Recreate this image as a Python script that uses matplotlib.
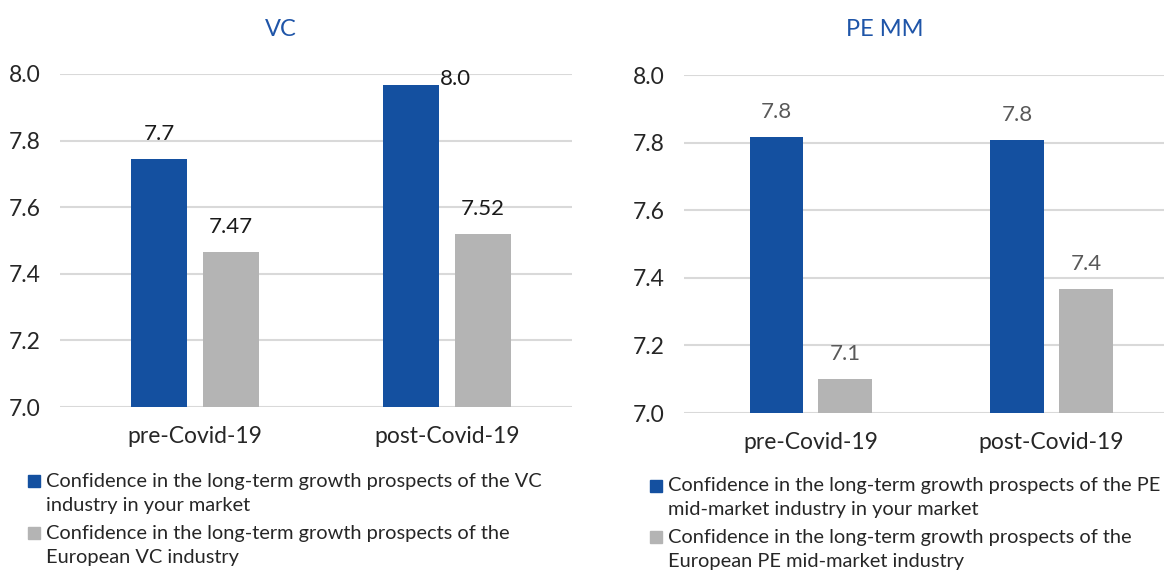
import matplotlib
matplotlib.use("Agg")
from matplotlib import pyplot as plt
from matplotlib.patches import Rectangle

plt.rcParams['font.family'] = ['Lato', 'DejaVu Sans']

periods = ["pre-Covid-19", "post-Covid-19"]

vc_market = [7.745, 7.967]
vc_europe = [7.466, 7.52]
vc_market_lbl = ["7.7", "8.0"]
vc_europe_lbl = ["7.47", "7.52"]

pe_market = [7.817, 7.808]
pe_europe = [7.10, 7.367]
pe_market_lbl = ["7.8", "7.8"]
pe_europe_lbl = ["7.1", "7.4"]

vc_legend = ["Confidence in the long-term growth prospects of the VC\nindustry in your market",
             "Confidence in the long-term growth prospects of the\nEuropean VC industry"]
pe_legend = ["Confidence in the long-term growth prospects of the PE\nmid-market industry in your market",
             "Confidence in the long-term growth prospects of the\nEuropean PE mid-market industry"]

blue = "#1450A0"
grey = "#B4B4B4"
txt = "#262626"
W, H = 1164, 571

fig = plt.figure(figsize=(11.64, 5.71), dpi=100)
ax1 = fig.add_axes([60/W, 1-407/H, 512/W, 333/H])
ax2 = fig.add_axes([684/W, 1-413/H, 480/W, 338/H])


def panel(ax, market, europe, mlbl, elbl, lblcol, xlim, side=()):
    x = range(len(periods))
    w = 0.222
    off = 0.143
    ax.bar([i - off for i in x], [v - 7.0 for v in market], w, bottom=7.0, color=blue, zorder=3)
    ax.bar([i + off for i in x], [v - 7.0 for v in europe], w, bottom=7.0, color=grey, zorder=3)
    for i in x:
        if i in side:
            # label sits beside the bar top, as in the source
            ax.annotate(mlbl[i], (i - off + w/2, market[i]), xytext=(1, -3), textcoords="offset points",
                        ha="left", va="bottom", fontsize=16, color=lblcol)
        else:
            ax.annotate(mlbl[i], (i - off, market[i]), xytext=(0, 11), textcoords="offset points",
                        ha="center", va="bottom", fontsize=16, color=lblcol)
        ax.annotate(elbl[i], (i + off, europe[i]), xytext=(0, 11), textcoords="offset points",
                    ha="center", va="bottom", fontsize=16, color=lblcol)
    ax.set_ylim(7.0, 8.0)
    ax.set_xlim(*xlim)
    ax.set_yticks([7.0, 7.2, 7.4, 7.6, 7.8, 8.0])
    ax.set_yticklabels(["%.1f" % t for t in [7.0, 7.2, 7.4, 7.6, 7.8, 8.0]])
    ax.set_xticks(list(x))
    ax.set_xticklabels(periods)
    ax.tick_params(axis="y", length=0, labelsize=16.5, labelcolor=txt, pad=14)
    ax.tick_params(axis="x", length=0, labelsize=16.5, labelcolor=txt, pad=14)
    ax.grid(axis="y", color="#D9D9D9", linewidth=1.5, zorder=0)
    for s in ax.spines.values():
        s.set_visible(False)


def legend_block(x0, ys, labels):
    # square key aligned with the first line of each entry, text wraps below
    for (y1, y2), lab, col in zip(ys, labels, [blue, grey]):
        fig.patches.append(Rectangle((x0/W, 1-(y1+6)/H), 12/W, 12/H, transform=fig.transFigure,
                                     color=col, figure=fig))
        l1, l2 = lab.split("\n")
        fig.text((x0+18)/W, 1-y1/H, l1, ha="left", va="center", fontsize=14.4, color=txt)
        fig.text((x0+18)/W, 1-y2/H, l2, ha="left", va="center", fontsize=14.4, color=txt)


panel(ax1, vc_market, vc_europe, vc_market_lbl, vc_europe_lbl, "#1a1a1a", (-0.536, 1.496), side=(1,))
panel(ax2, pe_market, pe_europe, pe_market_lbl, pe_europe_lbl, "#595959", (-0.526, 1.467))

fig.text(281/W, 1-30/H, "VC", ha="center", va="center", fontsize=17, color="#1F55A8")
fig.text(885/W, 1-30/H, "PE MM", ha="center", va="center", fontsize=17, color="#1F55A8")

legend_block(28, [(481, 506), (533, 557)], vc_legend)
legend_block(650, [(486, 510), (537, 562)], pe_legend)

fig.savefig("out.png", dpi=100)
